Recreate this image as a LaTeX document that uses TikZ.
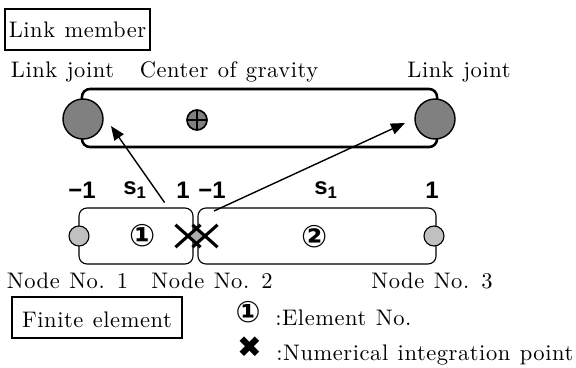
\documentclass[tikz,border=0pt]{standalone}
\usepackage{fontspec}
\setmainfont{lmroman10-regular.otf}[LetterSpace=2.5]
\usepackage{tikz}
\usetikzlibrary{arrows.meta, positioning, shapes.geometric, shapes.misc}
\newfontfamily\symfont{DejaVu Sans}
\newfontfamily\gothfont{Liberation Sans}
\definecolor{jointgray}{HTML}{808080}
\definecolor{nodegray}{HTML}{C0C0C0}

\begin{document}
\begin{tikzpicture}[
    x=0.025cm, y=-0.025cm,
    >={Triangle[length=10pt, width=8pt]},
    txt/.style={font=\fontsize{16}{18}\selectfont, inner sep=0pt, anchor=base,
        execute at begin node={\spaceskip=0.42em\relax}},
    titlebox/.style={draw, line width=0.8pt, minimum width=#1},
    coord/.style={font=\gothfont\bfseries\fontsize{17}{19}\selectfont, inner sep=0pt},
    elem/.style={draw, rounded corners=0.2cm, line width=0.8pt, minimum height=1.4cm, minimum width=#1},
    joint/.style={circle, draw, line width=1pt, fill=jointgray, minimum size=1cm, inner sep=0pt},
    fenode/.style={circle, draw, line width=0.8pt, fill=nodegray, minimum size=0.5cm, inner sep=0pt},
    intpt/.style={cross out, draw, line width=2.2pt, minimum width=0.55cm, minimum height=0.48cm, inner sep=0pt},
    elnum/.style={font=\symfont\bfseries\fontsize{22}{22}\selectfont, inner sep=0pt},
    cogmark/.style={circle, draw, fill=jointgray, line width=1.2pt, minimum size=0.5cm, inner sep=0pt,
        path picture={\draw[line width=1.2pt] (path picture bounding box.north) -- (path picture bounding box.south)
            (path picture bounding box.west) -- (path picture bounding box.east);}},
]
    \useasboundingbox (0,0) rectangle (576,367);

    % Link member
    \node[titlebox=3.625cm, minimum height=1.025cm] (lmbox) at (77.5,29.5) {};
    \node[txt] (lmtitle) at (lmbox.center |- 0,38) {Link member};
    \node[txt] (ljl) at (62.5,78) {Link joint};
    \node[txt] (cogl) at (229,78) {Center of gravity};
    \node[txt] (ljr) at (459,78) {Link joint};

    \node[draw, rounded corners=0.2cm, line width=1.8pt, minimum width=8.875cm, minimum height=1.45cm] (bar) at (259.5,118) {};
    \node[cogmark] (cog) at (197,120) {};
    \node[joint] (jl) at (83,119) {};
    \node[joint] (jr) at (435,119) {};

    % Natural coordinate
    \node[coord] (m1) at (82,190) {−1};
    \node[coord] (s1) at (135,190) {s\textsubscript{1}};
    \node[coord] (p1) at (183,190) {1};
    \node[coord] (m2) at (212,190) {−1};
    \node[coord] (s2) at (326,190) {s\textsubscript{1}};
    \node[coord] (p2) at (432,190) {1};

    % Finite elements
    \node[elem=2.85cm] (e1) at (136,236) {};
    \node[elem=5.95cm] (e2) at (317,236) {};
    \node[elnum] (en1) at (143,236) {①};
    \node[elnum] (en2) at (315,237) {②};
    \node[fenode] (n1) at (79,236) {};
    \node[fenode] (n3) at (434,236) {};
    \node[diamond, fill=nodegray!90!black, minimum size=0.32cm, inner sep=0pt] (n2) at (196.5,236) {};
    \node[intpt] (ip1) at (188,236) {};
    \node[intpt] (ip2) at (205,236) {};

    \node[txt] (nl1) at (67.5,288) {Node No. 1};
    \node[txt] (nl2) at (212,288) {Node No. 2};
    \node[txt] (nl3) at (432,288) {Node No. 3};

    % Mapping to link joints
    \coordinate (tipL) at (111,126);
    \coordinate (tipR) at (405,123);
    \coordinate (tailR) at (214,211);
    \draw[->, line width=1pt, shorten <=0.68cm] (ip1) -- (tipL);
    \draw[->, line width=1pt] (tailR) -- (tipR);

    % Legend
    \node[titlebox=4.25cm, minimum height=1.025cm] (febox) at (97,317.5) {};
    \node[txt] (fetitle) at (febox.center |- 0,327) {Finite element};
    \node[font=\symfont\bfseries\fontsize{21}{21}\selectfont, inner sep=0pt] (lgnum) at (248,312.5) {①};
    \node[txt, anchor=base west] (lgnumt) at (275,325) {:Element No.};
    \node[font=\symfont\fontsize{21}{21}\selectfont, inner sep=0pt] (lgip) at (250,347) {✖};
    \node[txt, anchor=base west] (lgipt) at (276,360) {:Numerical integration point};
\end{tikzpicture}
\end{document}
